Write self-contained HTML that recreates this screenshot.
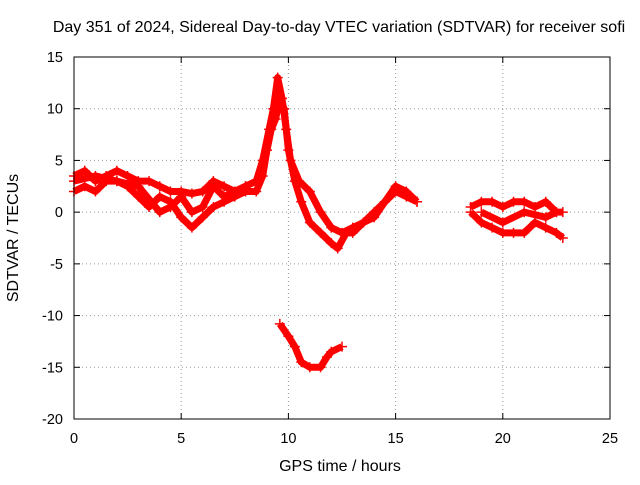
<!DOCTYPE html>
<html><head><meta charset="utf-8"><style>
body{margin:0;background:#fff}
svg text{font-family:"Liberation Sans",sans-serif;font-size:14.5px;fill:#000}
</style></head><body>
<svg id="chart" width="640" height="480">
<rect width="640" height="480" fill="#fff"/>
<text x="339" y="32" text-anchor="middle" style="font-size:16px">Day 351 of 2024, Sidereal Day-to-day VTEC variation (SDTVAR) for receiver sofi</text>
<text x="340" y="471" text-anchor="middle" style="font-size:16px">GPS time / hours</text>
<text x="18" y="238" text-anchor="middle" style="font-size:16px" transform="rotate(-90 18 238)">SDTVAR / TECUs</text>
<g id="grid"></g><g id="series"></g>
<rect x="74" y="57" width="536" height="362" fill="none" stroke="#000"/>
</svg>
<script>
const xTicks=[0,5,10,15,20,25];
const yTicks=[15,10,5,0,-5,-10,-15,-20];
const trackA_t=[0,0.5,1,1.5,2,2.5,3,3.5,4,4.5,5,5.5,6,6.5,7,7.5,8,8.5,8.8,9.1,9.3,9.5,9.7,9.9,10.1,10.5,11,11.5,12,12.5,13,13.5,14,14.5,15,15.5,16];
const trackA_v=[3.5,4,3,3.5,4,3.5,3,3,2.5,2,2,1.8,2,3,2.5,2,2.5,3,5,8,10,13,11,8,5,3,2,0,-1.5,-2,-1.5,-1,0,1,2,1.5,1];
const trackB_t=[0,0.5,1,1.5,2,2.5,3,3.5,4,4.5,5,5.5,6,6.5,7,7.5,8,8.5,8.8,9,9.2,9.4,9.6,9.8,10,10.3,10.6,11,11.5,12,12.3,12.7,13,13.5,14,14.5,15,15.5,16];
const trackB_v=[2,2.5,2,3,3,2.5,1.5,0.5,1.5,1,-0.5,-1.5,-0.5,0.5,1,1.5,2,2,3.5,6,8,9,11,10,6,3,1,-1,-2,-3,-3.5,-2,-2,-1,-0.5,1,2.5,2,1];
const trackC_t=[0,1,2,3,4,4.5,5,5.5,6,6.5,7,7.5,8];
const trackC_v=[3,3.5,3,2.5,0,0.5,1.5,0,0.5,2.5,1.5,2,2.5];
const trackD_t=[18.5,19,19.5,20,20.5,21,21.5,22,22.5,22.8];
const trackD_v=[0.5,1,1,0.5,1,1,0.5,1,0,0];
const trackE_t=[18.5,19,19.5,20,20.5,21,21.5,22,22.5,22.8];
const trackE_v=[0,-1,-1.5,-2,-2,-2,-1,-1.5,-2,-2.5];
const trackF_t=[19,20,21,22,22.5];
const trackF_v=[0,-1,0,-0.5,0];
const trackG_t=[9.6,10,10.3,10.6,11,11.5,11.8,12,12.5];
const trackG_v=[-10.8,-12,-13,-14.5,-15,-15,-14,-13.5,-13];
const X=h=>74+h*536/25, Y=v=>57+(15-v)*362/35;
const NS="http://www.w3.org/2000/svg";
const grid=document.getElementById('grid'), ser=document.getElementById('series');
function mk(tag,attrs,parent){const e=document.createElementNS(NS,tag);for(const k in attrs)e.setAttribute(k,attrs[k]);parent.appendChild(e);return e;}
xTicks.forEach(t=>{const x=X(t);
 if(t>0&&t<25){const g=mk('line',{x1:x,x2:x,y1:57,y2:419,stroke:'#999','stroke-dasharray':'1,3'},grid);}
 mk('line',{x1:x,x2:x,y1:419,y2:413,stroke:'#000'},grid);mk('line',{x1:x,x2:x,y1:57,y2:63,stroke:'#000'},grid);
 const l=mk('text',{x:x,y:443,'text-anchor':'middle'},grid);l.textContent=t;
 });
yTicks.forEach(t=>{const y=Y(t);
 if(t<15&&t>-20){const g=mk('line',{x1:74,x2:610,y1:y,y2:y,stroke:'#999','stroke-dasharray':'1,3'},grid);}
 mk('line',{x1:74,x2:80,y1:y,y2:y,stroke:'#000'},grid);mk('line',{x1:604,x2:610,y1:y,y2:y,stroke:'#000'},grid);
 const l=mk('text',{x:63,y:y+5,'text-anchor':'end'},grid);l.textContent=t;
 });
function track(ts,vs,name){
 const pts=ts.map((t,i)=>X(t)+','+Y(vs[i])).join(' ');
 const pl=mk('polyline',{points:pts,fill:'none',stroke:'#f00','stroke-width':7,'stroke-linejoin':'round'},ser);
 
 ts.forEach((t,i)=>{const x=X(t),y=Y(vs[i]);
  const p=mk('path',{d:`M${x-5} ${y}H${x+5}M${x} ${y-5}V${y+5}`,stroke:'#f00','stroke-width':1.5},ser);
  });
}
track(trackA_t,trackA_v,'track-a');track(trackB_t,trackB_v,'track-b');track(trackC_t,trackC_v,'track-c');
track(trackD_t,trackD_v,'track-d');track(trackE_t,trackE_v,'track-e');track(trackF_t,trackF_v,'track-f');
track(trackG_t,trackG_v,'track-g');
</script>
</body></html>
